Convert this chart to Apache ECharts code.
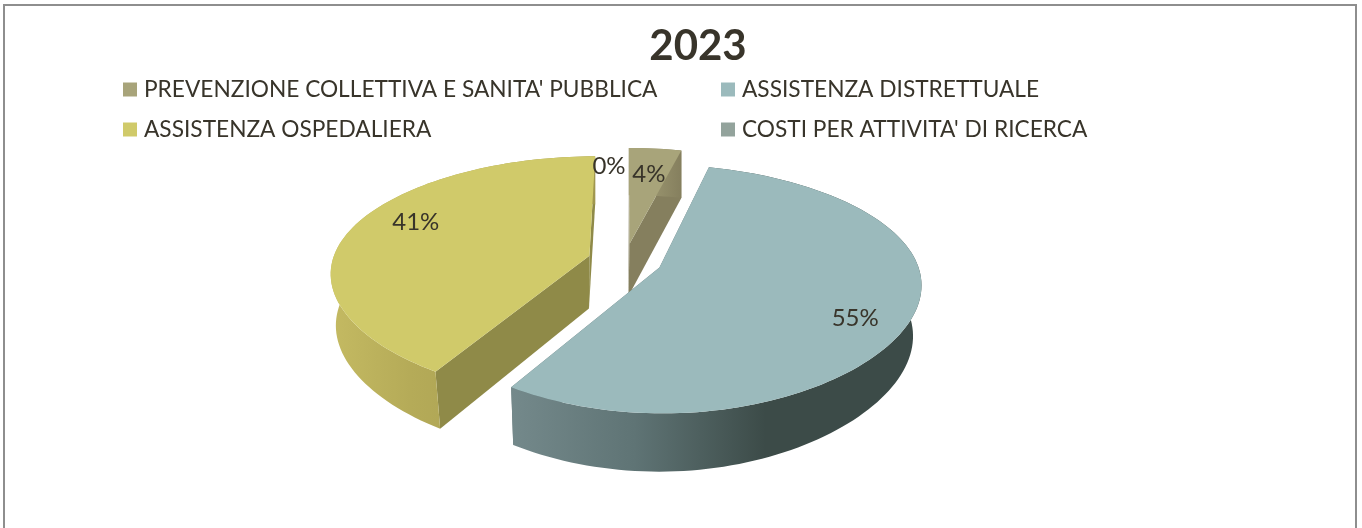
<!DOCTYPE html>
<html><head><meta charset="utf-8">
<style>html,body{margin:0;padding:0;background:#fff}#c{width:1362px;height:528px}</style>
<script src="https://cdn.jsdelivr.net/npm/echarts@6/dist/echarts.min.js"></script>
</head><body><div id="c"></div>
<script>
const titleText = '2023';
const categories = ["PREVENZIONE COLLETTIVA E SANITA' PUBBLICA", 'ASSISTENZA DISTRETTUALE', 'ASSISTENZA OSPEDALIERA', "COSTI PER ATTIVITA' DI RICERCA"];
const values = [4, 55, 41, 0];

const legendColors = ['#a8a47a', '#9bbabc', '#d0ca6a', '#93a39c'];
const looks = [
  {top: '#a8a47a', cut: '#857f5e', side: [[0, '#a8a47a'], [1, '#857f5e']]},
  {top: '#9bbabc', cut: '#5f7475', side: [[0, '#74898b'], [0.3, '#5f7475'], [0.62, '#3c4b48'], [1, '#3c4b48']]},
  {top: '#d0ca6a', cut: '#8f8a48', side: [[0, '#c4ba62'], [0.3, '#b5ab58'], [1, '#a0974e']]},
  {top: '#93a39c', cut: '#6f7d77', side: [[0, '#93a39c'], [1, '#6f7d77']]}
];
const labelPlace = [
  {r: 0.71, dx: 0, dy: 2},
  {r: 0.77, dx: 4, dy: 11},
  {r: 0.77, dx: 8, dy: -9},
  {r: 0.8, dx: -16, dy: 2}
];
const view = {cx: 625, cy: 260.6, A: 257, B: 120, explode: 0.145,
  x1: 0.143, x2: 0.047, y1: 0.175, y2: 0.0142};
const textColor = '#38342a';

const total = values.reduce((a, b) => a + b, 0);
const starts = [];
values.reduce((acc, v, i) => { starts[i] = acc; return acc + v; }, 0);
const toAngle = v => v / total * 2 * Math.PI;

function project(u, v, low) {
  const denX = 1 + view.x1 * v + view.x2 * v * v;
  const denY = 1 + view.y1 * v + view.y2 * v * v;
  let x = view.cx + view.A * u / denX;
  let y = view.cy - view.B * v / denY;
  if (low) {
    y += 53 - 5 * v;
    x -= 0.04 * (x - 565) * Math.max(0, Math.min(1, (1 - v) / 2));
  }
  return [x, y];
}
function modelPoint(mid, theta, r, low) {
  return project(view.explode * Math.sin(mid) + r * Math.sin(theta),
                 view.explode * Math.cos(mid) + r * Math.cos(theta), low);
}
function rim(a0, a1, mid, low) {
  const n = Math.max(2, Math.ceil((a1 - a0) / 0.03));
  const pts = [];
  for (let i = 0; i <= n; i++) pts.push(modelPoint(mid, a0 + (a1 - a0) * i / n, 1, low));
  return pts;
}
function renderSlice(i) {
  return function () {
    const a0 = toAngle(starts[i]), a1 = toAngle(starts[i] + values[i]), mid = (a0 + a1) / 2;
    const look = looks[i], kids = [];
    if (values[i] > 0) {
      const top = rim(a0, a1, mid, false), low = rim(a0, a1, mid, true);
      const xs = top.concat(low).map(p => p[0]);
      [a0, a1].forEach(a => {
        kids.push({type: 'polygon', shape: {points: [
          modelPoint(mid, a, 0, false), modelPoint(mid, a, 1, false),
          modelPoint(mid, a, 1, true), modelPoint(mid, a, 0, true)]},
          style: {fill: look.cut}});
      });
      kids.push({type: 'polygon', shape: {points: top.concat(low.slice().reverse())},
        style: {fill: {type: 'linear', x: Math.min(...xs), y: 0, x2: Math.max(...xs), y2: 0, global: true,
          colorStops: look.side.map(s => ({offset: s[0], color: s[1]}))}}});
      kids.push({type: 'polygon', shape: {points: [modelPoint(mid, a0, 0, false)].concat(top)}, style: {fill: look.top}});
    }
    return {type: 'group', children: kids};
  };
}
function renderLabel(i) {
  return function () {
    const a0 = toAngle(starts[i]), a1 = toAngle(starts[i] + values[i]), mid = (a0 + a1) / 2;
    const p = modelPoint(mid, mid, labelPlace[i].r, false);
    return {type: 'text', z2: 50, style: {text: values[i] + '%', x: p[0] + labelPlace[i].dx, y: p[1] + labelPlace[i].dy,
      align: 'center', verticalAlign: 'middle', fontFamily: 'Lato', fontSize: 24, fill: textColor}};
  };
}
const drawOrder = [0, 2, 1, 3];
const series = drawOrder.map(i => ({
  type: 'custom', name: categories[i], coordinateSystem: 'none', silent: true, animation: false,
  z: 2, data: [[values[i]]], itemStyle: {color: legendColors[i]}, renderItem: renderSlice(i)
})).concat(categories.map((c, i) => ({
  type: 'custom', coordinateSystem: 'none', silent: true, animation: false, z: 5,
  data: [[values[i]]], renderItem: renderLabel(i)
})));

const legendBase = {orient: 'vertical', top: 78, itemWidth: 14, itemHeight: 14, itemGap: 17, icon: 'rect',
  selectedMode: false, padding: 0,
  textStyle: {fontFamily: 'Lato', fontSize: 22.7, lineHeight: 20, height: 20, color: textColor, padding: [0, 0, 0, 2]}};
const chart = echarts.init(document.getElementById('c'), null, {renderer: 'canvas'});
chart.setOption({
  backgroundColor: '#fff', animation: false,
  title: {text: titleText, left: 698, top: 25, textAlign: 'center', padding: 0,
    textStyle: {fontFamily: 'Lato', fontWeight: 'bold', fontSize: 42, color: textColor}},
  legend: [
    Object.assign({}, legendBase, {left: 123, data: [categories[0], categories[2]]}),
    Object.assign({}, legendBase, {left: 721, data: [categories[1], categories[3]]})
  ],
  graphic: [{type: 'polyline', silent: true, shape: {points: [[4, 528], [4, 5], [1356, 5], [1356, 528]]},
    style: {stroke: '#8e8e8e', lineWidth: 2, fill: null}}],
  series
});
</script></body></html>
